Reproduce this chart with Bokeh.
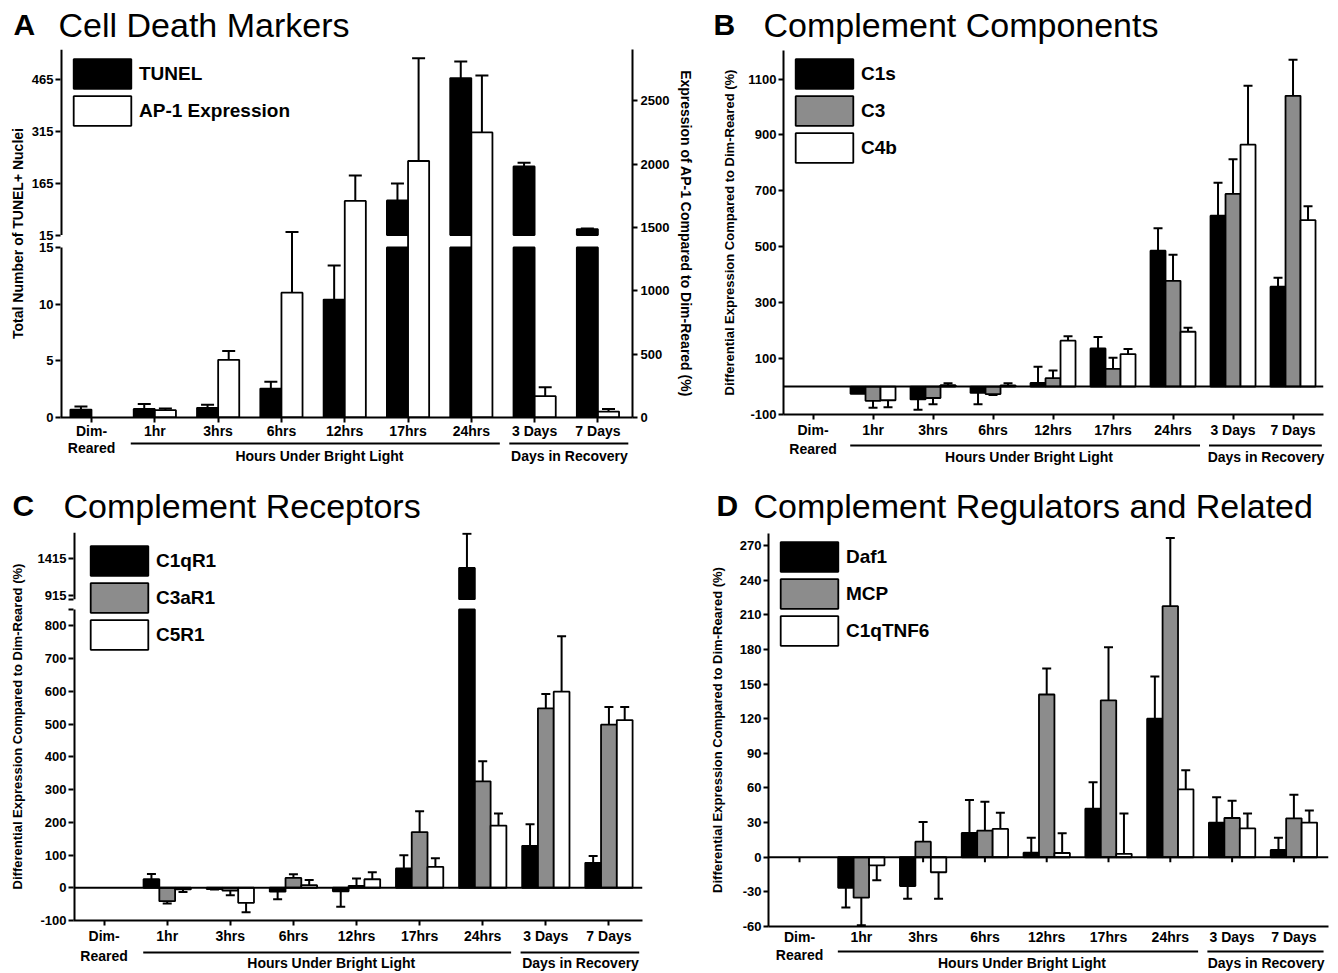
from bokeh.plotting import figure
from bokeh.models import (Range1d, LinearAxis, FixedTicker, Whisker, TeeHead,
                          ColumnDataSource, Label, Legend, LegendItem, Span)
from bokeh.layouts import row, column
from bokeh.embed import file_html
from bokeh.resources import INLINE

# ---------------------------------------------------------------- data
categories = ["Dim-Reared", "1hr", "3hrs", "6hrs", "12hrs", "17hrs", "24hrs", "3 Days", "7 Days"]
tick_labels = ["Dim-", "1hr", "3hrs", "6hrs", "12hrs", "17hrs", "24hrs", "3 Days", "7 Days"]
tick_label_second_line = "Reared"
group_names = ["Hours Under Bright Light", "Days in Recovery"]

# Panel A - Cell Death Markers
tunel = [0.7, 0.75, 0.85, 2.55, 10.4, 115, 468, 213, 32]
tunel_err = [0.27, 0.45, 0.27, 0.6, 3.0, 49, 48, 11, 2]
ap1 = [None, 58, 455, 985, 1710, 2025, 2250, 168, 47]
ap1_err = [None, 13, 70, 480, 200, 810, 450, 70, 20]
tunel_low_ticks = [0, 5, 10, 15]
tunel_up_ticks = [15, 165, 315, 465]
ap1_ticks = [0, 500, 1000, 1500, 2000, 2500]

# Panel B - Complement Components
c1s = [None, -26, -46, -23, 13, 136, 486, 611, 357]
c1s_err = [None, 0, 37, 40, 58, 41, 80, 118, 32]
c3 = [None, -51, -41, -27, 30, 63, 378, 689, 1040]
c3_err = [None, 25, 22, 3, 27, 40, 93, 124, 129]
c4b = [None, -49, 5, 4, 164, 116, 196, 865, 595]
c4b_err = [None, 25, 7, 8, 16, 18, 14, 211, 50]
b_ticks = [-100, 100, 300, 500, 700, 900, 1100]

# Panel C - Complement Receptors
c1qr1 = [None, 26, -4, -12, -11, 59, 1290, 128, 76]
c1qr1_err = [None, 16, 1, 23, 47, 40, 460, 66, 21]
c3ar1 = [None, -41, -9, 30, 6, 170, 325, 548, 498]
c3ar1_err = [None, 7, 14, 11, 22, 64, 61, 44, 54]
c5r1 = [None, -5, -46, 8, 26, 64, 190, 599, 512]
c5r1_err = [None, 8, 29, 16, 21, 26, 37, 169, 40]
c_low_ticks = [-100, 0, 100, 200, 300, 400, 500, 600, 700, 800]
c_up_ticks = [915, 1415]

# Panel D - Complement Regulators and Related
daf1 = [None, -26.5, -25, 21, 4, 42, 120, 30, 6.3]
daf1_err = [None, 17, 11, 28.5, 13, 23, 36.6, 22, 10.7]
mcp = [None, -35, 13.5, 23, 141, 136, 217.5, 34, 33.7]
mcp_err = [None, 24, 17, 25, 22.5, 46, 59, 15, 20.5]
c1qtnf6 = [None, -7, -13, 24.5, 3.7, 3, 58.8, 25, 30]
c1qtnf6_err = [None, 13, 23, 14, 17, 35, 16.5, 13, 10.6]
d_ticks = [-60, -30, 0, 30, 60, 90, 120, 150, 180, 210, 240, 270]

# ---------------------------------------------------------------- styles / geometry
FONT = "Liberation Sans"
BLACK, GRAY, WHITE = "#000000", "#8c8c8c", "#ffffff"


def geom(W, bl, br, bt, fh, bb, xr, yr, t, s):
    return dict(W=W, bl=bl, br=br, bt=bt, bb=bb, fh=fh, H=bt + fh + bb, xr=xr, yr=yr,
                fw=W - bl - br, t=t, s=s)


# width, borders, frame height, x/y ranges, title-strip height, group-strip height
GA = geom(705, 60, 73, 5, 368, 24, (-0.49, 8.546), (0, 2905), 44, 37)
GB = geom(631, 78, 13, 5, 366, 24, (-0.492, 8.508), (-100, 1202), 45, 38)
GC = geom(705, 73, 63, 5, 390, 24, (-0.485, 8.532), (-100, 1085), 49, 25)
GD = geom(631, 63, 8, 5, 394, 20, (-0.502, 8.56), (-60, 280.5), 50, 24)

# broken axis mappings
A_BRK = dict(low_top=15, up_start=15,
             low=lambda v: v * 89.5,
             up=lambda v: 1440 + (v - 15) * 2.736)
C_BRK = dict(low_top=850, up_start=870,
             low=lambda v: v,
             up=lambda v: 881.4 + (v - 870) * 0.227)


def bmap(brk, v):
    if brk is None:
        return v
    return brk["low"](v) if v <= brk["low_top"] else brk["up"](v)


def style_axis(ax, size):
    ax.axis_line_width = 2
    ax.axis_line_color = BLACK
    ax.major_tick_line_width = 2
    ax.major_tick_line_color = BLACK
    ax.major_tick_in = 0
    ax.major_tick_out = 5
    ax.minor_tick_line_color = None
    ax.major_label_text_font = FONT
    ax.major_label_text_font_size = f"{size}px"
    ax.major_label_text_font_style = "bold"
    ax.major_label_text_color = BLACK
    ax.major_label_standoff = 2
    ax.axis_label_text_font = FONT
    ax.axis_label_text_font_style = "bold"
    ax.axis_label_text_color = BLACK


def make_panel(g, yticks, overrides, ylabel, ylabel_size, ylabel_standoff):
    p = figure(width=g["W"], height=g["H"], x_range=Range1d(*g["xr"]), y_range=Range1d(*g["yr"]),
               output_backend="svg", toolbar_location=None,
               min_border_left=g["bl"], min_border_right=g["br"],
               min_border_top=g["bt"], min_border_bottom=g["bb"])
    p.frame_align = False
    p.grid.visible = False
    p.outline_line_color = None
    xa = p.xaxis[0]
    xa.ticker = FixedTicker(ticks=list(range(len(categories))))
    xa.major_label_overrides = {i: t for i, t in enumerate(tick_labels)}
    style_axis(xa, 14)
    ya = p.yaxis[0]
    ya.ticker = FixedTicker(ticks=yticks)
    ya.major_label_overrides = overrides if overrides else {t: str(t) for t in yticks}
    style_axis(ya, 13)
    ya.axis_label = ylabel
    ya.axis_label_text_font_size = f"{ylabel_size}px"
    ya.axis_label_standoff = ylabel_standoff
    return p


def make_strip(W, H, xr):
    p = figure(width=W, height=H, x_range=xr, y_range=Range1d(H, 0),
               output_backend="svg", toolbar_location=None,
               x_axis_type=None, y_axis_type=None, min_border=0)
    p.frame_align = False
    p.grid.visible = False
    p.outline_line_color = None
    return p


def title_strip(g, letter, title, lx, tx, cy):
    p = make_strip(g["W"], g["t"], Range1d(0, g["W"]))
    p.add_layout(Label(x=lx, y=cy, text=letter, text_font=FONT, text_font_size="30px",
                       text_font_style="bold", text_baseline="middle", text_align="left",
                       text_color=BLACK))
    p.add_layout(Label(x=tx, y=cy, text=title, text_font=FONT, text_font_size="34px",
                       text_font_style="normal", text_baseline="middle", text_align="left",
                       text_color=BLACK))
    return p


SPANS = [(0.62, 6.45), (6.6, 8.48)]
CENTERS = [3.6, 7.55]


def group_strip(g, line_y, reared_y, text_y):
    x0, x1 = g["xr"]
    k = (x1 - x0) / g["fw"]
    p = make_strip(g["W"], g["s"], Range1d(x0 - g["bl"] * k, x1 + g["br"] * k))
    p.segment(x0=[a for a, b in SPANS], y0=[line_y] * len(SPANS),
              x1=[b for a, b in SPANS], y1=[line_y] * len(SPANS),
              line_width=2, line_color=BLACK)
    for cx, name in zip(CENTERS, group_names):
        p.add_layout(Label(x=cx, y=text_y, text=name, text_font=FONT, text_font_size="14px",
                           text_font_style="bold", text_align="center", text_baseline="middle",
                           text_color=BLACK))
    p.add_layout(Label(x=0, y=reared_y, text=tick_label_second_line, text_font=FONT,
                       text_font_size="14px", text_font_style="bold", text_align="center",
                       text_baseline="middle", text_color=BLACK))
    return p


def series_bars(p, vals, offset, width, fill, brk=None):
    lo = dict(x=[], top=[], bottom=[])
    up = dict(x=[], top=[], bottom=[])
    for i, v in enumerate(vals):
        if v is None:
            continue
        x = i + offset
        if brk is None or v <= brk["low_top"]:
            lo["x"].append(x); lo["top"].append(bmap(brk, v)); lo["bottom"].append(0)
        else:
            lo["x"].append(x); lo["top"].append(brk["low"](brk["low_top"])); lo["bottom"].append(0)
            up["x"].append(x); up["bottom"].append(brk["up"](brk["up_start"])); up["top"].append(brk["up"](v))
    r = p.vbar(x="x", top="top", bottom="bottom", width=width, source=ColumnDataSource(lo),
               fill_color=fill, line_color=BLACK, line_width=1.8)
    if up["x"]:
        p.vbar(x="x", top="top", bottom="bottom", width=width, source=ColumnDataSource(up),
               fill_color=fill, line_color=BLACK, line_width=1.8)
    return r


def series_err(p, vals, errs, offset, cap, brk=None):
    pos = dict(base=[], lower=[], upper=[])
    neg = dict(base=[], lower=[], upper=[])
    for i, (v, e) in enumerate(zip(vals, errs)):
        if v is None or not e:
            continue
        if v >= 0:
            pos["base"].append(i + offset); pos["lower"].append(bmap(brk, v)); pos["upper"].append(bmap(brk, v + e))
        else:
            neg["base"].append(i + offset); neg["lower"].append(bmap(brk, v - e)); neg["upper"].append(bmap(brk, v))
    if pos["base"]:
        p.add_layout(Whisker(source=ColumnDataSource(pos), base="base", lower="lower", upper="upper",
                             dimension="height", line_width=2, line_color=BLACK, lower_head=None,
                             upper_head=TeeHead(size=cap, line_width=2, line_color=BLACK)))
    if neg["base"]:
        p.add_layout(Whisker(source=ColumnDataSource(neg), base="base", lower="lower", upper="upper",
                             dimension="height", line_width=2, line_color=BLACK, upper_head=None,
                             lower_head=TeeHead(size=cap, line_width=2, line_color=BLACK)))


def add_legend(p, items, margin):
    lg = Legend(items=[LegendItem(label=l, renderers=[r]) for l, r in items],
                location="top_left", margin=margin, padding=5, spacing=0,
                glyph_width=72, glyph_height=37, label_standoff=1,
                label_text_font=FONT, label_text_font_size="19px", label_text_font_style="bold",
                label_text_color=BLACK, border_line_color=None, background_fill_alpha=0)
    p.add_layout(lg)


def zero_line(p):
    p.add_layout(Span(location=0, dimension="width", line_color=BLACK, line_width=2))


# ---------------------------------------------------------------- Panel A
a_over = {}
for t in tunel_low_ticks:
    a_over[round(A_BRK["low"](t))] = str(t)
for t in tunel_up_ticks:
    a_over[round(A_BRK["up"](t))] = str(t)
pA = make_panel(GA, list(a_over.keys()), a_over, "Total Number of TUNEL+ Nuclei", 14, 3)
pA.xaxis[0].major_label_standoff = 0
pA.yaxis[0].axis_line_color = None
xa0 = GA["xr"][0]
pA.segment(x0=[xa0, xa0], y0=[GA["yr"][0], A_BRK["up"](15)], x1=[xa0, xa0],
           y1=[A_BRK["low"](15), GA["yr"][1]], line_width=4, line_color=BLACK)
ra = LinearAxis(ticker=FixedTicker(ticks=ap1_ticks), axis_label="Expression of AP-1 Compared to Dim-Reared (%)")
style_axis(ra, 13)
ra.major_label_overrides = {t: str(t) for t in ap1_ticks}
ra.major_label_standoff = 3
ra.axis_label_text_font_size = "14px"
ra.axis_label_standoff = 6
pA.add_layout(ra, "right")
rA1 = series_bars(pA, tunel, -0.167, 0.333, BLACK, A_BRK)
rA2 = series_bars(pA, ap1, 0.167, 0.333, WHITE)
series_err(pA, tunel, tunel_err, -0.167, 13, A_BRK)
series_err(pA, ap1, ap1_err, 0.167, 13)
add_legend(pA, [("TUNEL", rA1), ("AP-1 Expression", rA2)], 6)
tA = title_strip(GA, "A", "Cell Death Markers", 13, 58, 24)
gA = group_strip(GA, 2, 6, 14)

# ---------------------------------------------------------------- Panel B
pB = make_panel(GB, b_ticks, None, "Differential Expression Compared to Dim-Reared (%)", 13, 8)
zero_line(pB)
rB = [series_bars(pB, v, o, 0.25, c) for v, o, c in
      [(c1s, -0.25, BLACK), (c3, 0.0, GRAY), (c4b, 0.25, WHITE)]]
for v, e, o in [(c1s, c1s_err, -0.25), (c3, c3_err, 0.0), (c4b, c4b_err, 0.25)]:
    series_err(pB, v, e, o, 9)
add_legend(pB, list(zip(["C1s", "C3", "C4b"], rB)), 5)
tB = title_strip(GB, "B", "Complement Components", 8, 58, 24)
gB = group_strip(GB, 5, 8, 16)

# ---------------------------------------------------------------- Panel C
c_over = {t: str(t) for t in c_low_ticks}
c_over[C_BRK["low_top"]] = ""
c_over[round(C_BRK["up"](C_BRK["up_start"]))] = ""
for t in c_up_ticks:
    c_over[round(C_BRK["up"](t))] = str(t)
pC = make_panel(GC, list(c_over.keys()), c_over, "Differential Expression Compared to Dim-Reared (%)", 13, 10)
pC.yaxis[0].axis_line_color = None
xc0 = GC["xr"][0]
pC.segment(x0=[xc0, xc0], y0=[GC["yr"][0], C_BRK["up"](C_BRK["up_start"])], x1=[xc0, xc0],
           y1=[C_BRK["low_top"], GC["yr"][1]], line_width=4, line_color=BLACK)
zero_line(pC)
rC = [series_bars(pC, v, o, 0.25, c, C_BRK) for v, o, c in
      [(c1qr1, -0.25, BLACK), (c3ar1, 0.0, GRAY), (c5r1, 0.25, WHITE)]]
for v, e, o in [(c1qr1, c1qr1_err, -0.25), (c3ar1, c3ar1_err, 0.0), (c5r1, c5r1_err, 0.25)]:
    series_err(pC, v, e, o, 9, C_BRK)
add_legend(pC, list(zip(["C1qR1", "C3aR1", "C5R1"], rC)), 10)
tC = title_strip(GC, "C", "Complement Receptors", 12, 63, 27)
gC = group_strip(GC, 6, 9, 16)

# ---------------------------------------------------------------- Panel D
pD = make_panel(GD, d_ticks, None, "Differential Expression Compared to Dim-Reared (%)", 13, 12)
pD.xaxis[0].major_tick_out = 0
pD.xaxis[0].major_label_standoff = 2
zero_line(pD)
d_tick_len = 5 * (GD["yr"][1] - GD["yr"][0]) / GD["fh"]
pD.segment(x0=list(range(len(categories))), y0=[0] * len(categories),
           x1=list(range(len(categories))), y1=[-d_tick_len] * len(categories),
           line_width=2, line_color=BLACK)
rD = [series_bars(pD, v, o, 0.25, c) for v, o, c in
      [(daf1, -0.25, BLACK), (mcp, 0.0, GRAY), (c1qtnf6, 0.25, WHITE)]]
for v, e, o in [(daf1, daf1_err, -0.25), (mcp, mcp_err, 0.0), (c1qtnf6, c1qtnf6_err, 0.25)]:
    series_err(pD, v, e, o, 9)
add_legend(pD, list(zip(["Daf1", "MCP", "C1qTNF6"], rD)), 5)
tD = title_strip(GD, "D", "Complement Regulators and Related", 11, 48, 27)
gD = group_strip(GD, 4, 7, 15)

layout = column(row(column(tA, pA, gA), column(tB, pB, gB)),
                row(column(tC, pC, gC), column(tD, pD, gD)))
open("out.html", "w").write(file_html(layout, INLINE, title="Complement expression"))
